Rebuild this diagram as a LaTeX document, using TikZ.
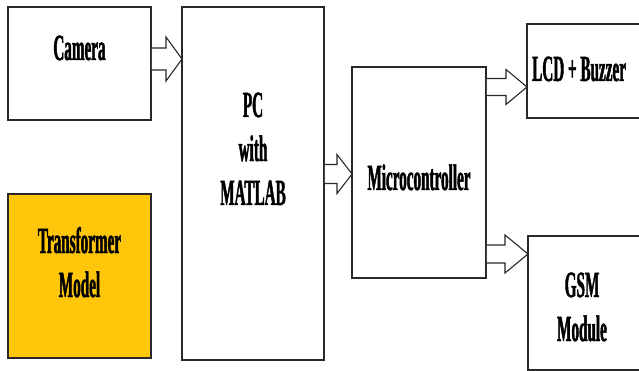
\documentclass[tikz,border=0pt]{standalone}
\usepackage{fontspec}
\newfontfamily\blockfont{Liberation Serif}[UprightFont=* Bold, FakeStretch=0.41, FakeBold=1.2]
\usetikzlibrary{calc}
\definecolor{boxline}{RGB}{40,40,40}
\definecolor{xfmrfill}{RGB}{255,198,10}
\tikzset{
  block/.style={
    draw=boxline,
    line width=1.6pt,
    inner sep=0pt,
    outer sep=0pt
  },
  block text/.style={
    font=\blockfont\fontsize{37}{44}\selectfont,
    align=center,
    inner sep=0pt,
    anchor=base
  },
  fat arrow/.style={
    draw=boxline,
    line width=1.1pt,
    fill=white,
    line join=miter
  }
}
% #1 start, #2 tip (x only), #3 shaft half, #4 head half, #5 head length
\newcommand{\fatarrow}[5]{%
  \draw[fat arrow] let \p1=(#1), \p2=(#2) in
    ({\x1+0.8pt},{\y1+#3}) -- ({\x2-#5},{\y1+#3}) -- ({\x2-#5},{\y1+#4})
    -- (\x2,\y1) -- ({\x2-#5},{\y1-#4}) -- ({\x2-#5},{\y1-#3})
    -- ({\x1+0.8pt},{\y1-#3});
}

\begin{document}
\begin{tikzpicture}[x=1pt, y=-1pt]
    \useasboundingbox (0,0) rectangle (639,371);
    \clip (0,0) rectangle (639,371);

    % blocks
    \node[block, minimum width=143, minimum height=113] (cam) at (79.5,63.5) {};
    \node[block, fill=xfmrfill, minimum width=143, minimum height=164] (xfmr) at (79.5,276) {};
    \node[block, minimum width=142, minimum height=353] (pc) at (253,183.5) {};
    \node[block, minimum width=134, minimum height=211] (mcu) at (419,172.5) {};
    \node[block, minimum width=150, minimum height=94] (lcd) at (602,71) {};
    \node[block, minimum width=150, minimum height=134] (gsm) at (603,303) {};

    % labels (base = last line)
    \node[block text] (camtxt) at ($(cam.center)+(0,-3.5)$) {Camera};
    \node[block text] (xfmrtxt) at ($(xfmr.center)+(0,21)$) {Transformer\\Model};
    \node[block text] (pctxt) at ($(pc.center)+(0,21.5)$) {PC\\with\\MATLAB};
    \node[block text] (mcutxt) at ($(mcu.center)+(0,17.5)$) {Microcontroller};
    \node[block text, anchor=base west] (lcdtxt) at ($(lcd.west)+(5,10)$) {LCD + Buzzer};
    \node[block text] (gsmtxt) at ($(gsm.west)+(54,38)$) {GSM\\Module};

    % arrows
    \fatarrow{$(cam.east)+(0,-4.5)$}{pc.west}{11pt}{22pt}{16pt}
    \fatarrow{$(pc.east)+(0,-9.5)$}{mcu.west}{9.5pt}{19.5pt}{15pt}
    \fatarrow{$(mcu.east)+(0,-85.5)$}{lcd.west}{8.5pt}{17.5pt}{21pt}
    \fatarrow{$(mcu.east)+(0,81.5)$}{gsm.west}{9pt}{19pt}{23pt}

\end{tikzpicture}
\end{document}
